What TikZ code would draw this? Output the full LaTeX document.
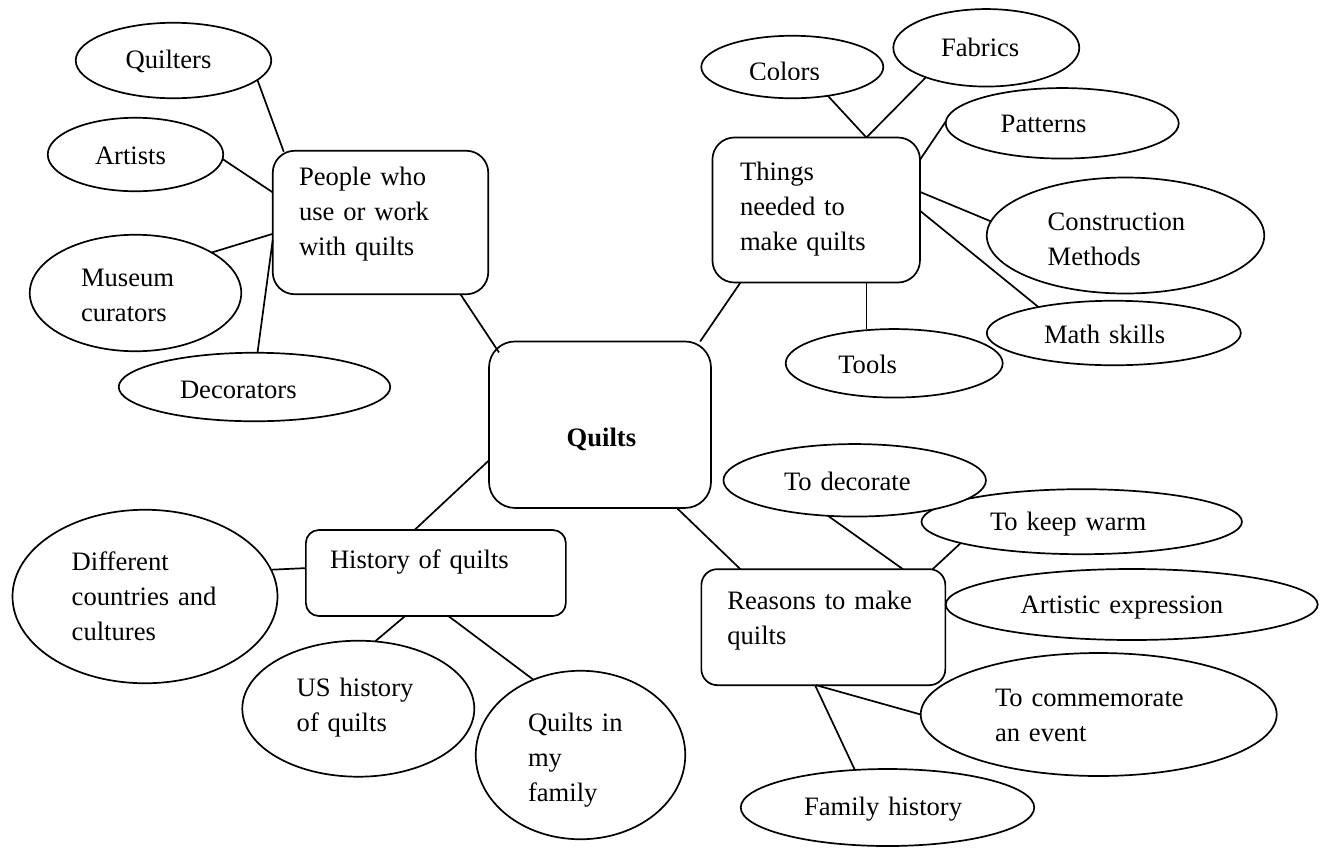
\documentclass[tikz,border=0pt]{standalone}
\usepackage{fontspec}
\setmainfont{Liberation Serif}
\usetikzlibrary{calc,shapes.geometric}
\begin{document}
\begin{tikzpicture}[x=1pt,y=-1pt,
  lw/.style={line width=1.7pt},
  bub/.style={ellipse, draw, fill=white, lw, inner sep=0pt, outer sep=0pt},
  rbox/.style={rectangle, draw, fill=white, lw, inner sep=0pt, outer sep=0pt},
  txt/.style={anchor=base west, inner sep=0pt, outer sep=0pt, text width=320pt, align=left, font=\fontsize{26.6}{35}\selectfont},
  link/.style={lw}]
\useasboundingbox (0,0) rectangle (1325,847);

% boxes
\node[rbox, rounded corners=22pt, minimum width=215.5pt, minimum height=143.5pt] (people) at (380.5,222.5) {};
\node[rbox, rounded corners=22pt, minimum width=207.5pt, minimum height=145pt] (things) at (816.2,210) {};
\node[rbox, rounded corners=26pt, minimum width=222pt, minimum height=166.5pt] (quilts) at (600,424.7) {};
\node[rbox, rounded corners=13pt, minimum width=260pt, minimum height=86pt] (history) at (435.85,573) {};
\node[rbox, rounded corners=16pt, minimum width=244pt, minimum height=116pt] (reasons) at (823.35,627.15) {};

% ellipses
\node[bub, minimum width=195.5pt, minimum height=75.5pt] (quilters) at (173.5,60.5) {};
\node[bub, minimum width=175.5pt, minimum height=73.5pt] (artists) at (135.5,154.5) {};
\node[bub, minimum width=211.5pt, minimum height=116.5pt] (museum) at (135.5,293) {};
\node[bub, minimum width=271.5pt, minimum height=68.5pt] (decorators) at (254.5,387) {};
\node[bub, minimum width=182pt, minimum height=62.5pt] (colors) at (792.3,67) {};
\node[bub, minimum width=186pt, minimum height=77.5pt] (fabrics) at (986.3,47.8) {};
\node[bub, minimum width=233pt, minimum height=70.5pt] (patterns) at (1062.2,123.3) {};
\node[bub, minimum width=277.5pt, minimum height=116pt] (construction) at (1125.5,235.5) {};
\node[bub, minimum width=254pt, minimum height=64.5pt] (math) at (1113.8,333) {};
\node[bub, minimum width=217pt, minimum height=68.5pt] (tools) at (894.2,363.3) {};
\node[bub, minimum width=320.5pt, minimum height=65pt] (warm) at (1081.7,521.7) {};
\node[bub, minimum width=262.5pt, minimum height=72.5pt] (decorate) at (854.7,480.3) {};
\node[bub, minimum width=372pt, minimum height=71pt] (artistic) at (1131.7,604.5) {};
\node[bub, minimum width=356pt, minimum height=123pt] (commemorate) at (1098.7,714.5) {};
\node[bub, minimum width=293.5pt, minimum height=77pt] (familyhist) at (887.5,807.5) {};
\node[bub, minimum width=265pt, minimum height=173.5pt] (different) at (145,596.5) {};
\node[bub, minimum width=232pt, minimum height=136pt] (ushistory) at (358.3,708.7) {};
\node[bub, minimum width=209.5pt, minimum height=168.5pt] (myfamily) at (580.5,755) {};

% connectors
\draw[link] ($(people.south west)!0.871!(people.south east)$) -- ($(quilts.north west)+(10,11)$);
\draw[link] ($(things.south west)!0.135!(things.south east)$) -- ($(quilts.north west)!0.951!(quilts.north east)$);
\draw[link] ($(quilts.north west)!0.714!(quilts.south west)$) -- ($(history.north west)!0.418!(history.north east)$);
\draw[link] ($(quilts.south west)!0.846!(quilts.south east)$) -- ($(reasons.north west)!0.160!(reasons.north east)$);

\draw[link] (quilters.-13) -- ($(people.north west)+(11,1)$);
\draw[link] (artists.-3.6) -- ($(people.north west)!0.29!(people.south west)$);
\draw[link] (museum.28.8) -- ($(people.north west)!0.579!(people.south west)$);
\draw[link] (decorators.85.9) -- ($(people.north west)!0.62!(people.south west)$);

\coordinate (thingstop) at ($(things.north west)!0.742!(things.north east)$);
\coordinate (thingsbot) at ($(things.south west)!0.742!(things.south east)$);
\draw[link] (colors.-39.7) -- (thingstop);
\draw[link] (fabrics.-154.6) -- (thingstop);
\draw[link] (patterns.179.2) -- ($(things.north east)!0.154!(things.south east)$);
\draw[link] (construction.174) -- ($(things.north east)!0.375!(things.south east)$);
\draw[link] (math.161.8) -- ($(things.north east)!0.505!(things.south east)$);
\draw[link] (thingsbot) -- (thingsbot |- tools.north);

\draw[link] (different.12.75) -- ($(history.north west)!0.443!(history.south west)$);
\draw[link] (ushistory.76.3) -- ($(history.south west)!0.382!(history.south east)$);
\draw[link] (myfamily.122.6) -- ($(history.south west)!0.548!(history.south east)$);

\draw[link] (decorate.-127.1) -- ($(reasons.north west)!0.826!(reasons.north east)$);
\draw[link] (warm.-170.1) -- ($(reasons.north west)!0.948!(reasons.north east)$);
\draw[link] (commemorate.180) -- ($(reasons.south west)!0.47!(reasons.south east)$);
\draw[link] (familyhist.131.6) -- ($(reasons.south west)!0.466!(reasons.south east)$);

% texts
\node[txt] (t-people) at (299,185) {People who\\use or work\\with quilts};
\node[txt] (t-things) at (740,180) {Things\\needed to\\make quilts};
\node[txt, font=\fontsize{26.6}{35}\selectfont\bfseries] (t-quilts) at (566.7,446.7) {Quilts};
\node[txt] (t-history) at (330,568.3) {History of quilts};
\node[txt] (t-reasons) at (727.3,609.3) {Reasons to make\\quilts};

\node[txt] (t-quilters) at (125.7,68.3) {Quilters};
\node[txt] (t-artists) at (95,164) {Artists};
\node[txt] (t-museum) at (81,286.7) {Museum\\curators};
\node[txt] (t-decorators) at (180,398.3) {Decorators};

\begin{scope}
\clip (700,0) rectangle (890,79);
\node[txt] (t-colors) at (749,80.9) {Colors};
\end{scope}
\node[txt] (t-fabrics) at (941,56) {Fabrics};
\node[txt] (t-patterns) at (1000.7,132.7) {Patterns};
\node[txt] (t-construction) at (1047.7,230) {Construction\\Methods};
\node[txt] (t-math) at (1044,343.3) {Math skills};
\node[txt] (t-tools) at (838.3,373.3) {Tools};

\node[txt] (t-decorate) at (784,490) {To decorate};
\node[txt] (t-warm) at (990,530) {To keep warm};
\node[txt] (t-artistic) at (1020.7,613.3) {Artistic expression};
\node[txt] (t-commemorate) at (995,706) {To commemorate\\an event};
\node[txt] (t-familyhist) at (804,815) {Family history};

\node[txt] (t-different) at (71.7,570) {Different\\countries and\\cultures};
\node[txt] (t-ushistory) at (296.7,696.7) {US history\\of quilts};
\node[txt] (t-myfamily) at (528,731) {Quilts in\\my\\family};
\end{tikzpicture}
\end{document}
